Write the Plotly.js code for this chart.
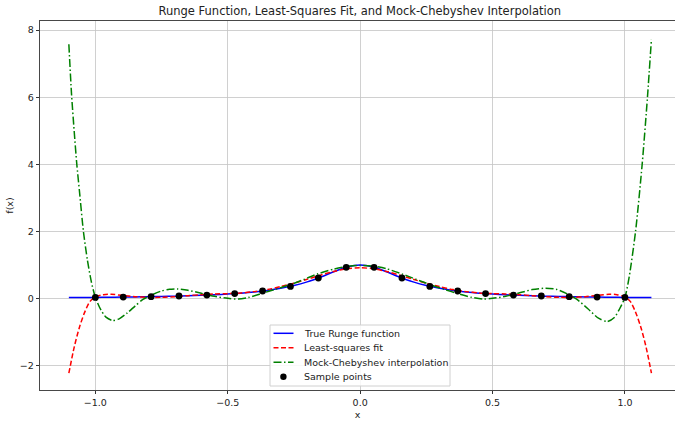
<!DOCTYPE html>
<html>
<head>
<meta charset="utf-8">
<script src="https://cdn.plot.ly/plotly-3.0.1.min.js"></script>
<style>html,body{margin:0;padding:0;background:#fff;}#chart{width:675px;height:424px;}</style>
</head>
<body>
<div id="chart"></div>
<script>
// True Runge function
const xTrue = [-1.1,-1.05,-1.0,-0.95,-0.9,-0.85,-0.8,-0.75,-0.7,-0.65,-0.6,-0.55,-0.5,-0.45,-0.4,-0.35,-0.3,-0.25,-0.2,-0.15,-0.1,-0.05,0,
  0.05,0.1,0.15,0.2,0.25,0.3,0.35,0.4,0.45,0.5,0.55,0.6,0.65,0.7,0.75,0.8,0.85,0.9,0.95,1.0,1.05,1.1];
const yTrue = [0.032,0.035,0.038,0.042,0.047,0.052,0.059,0.066,0.075,0.086,0.1,0.117,0.138,0.165,0.2,0.246,0.308,0.39,0.5,0.64,0.8,0.941,1.0,
  0.941,0.8,0.64,0.5,0.39,0.308,0.246,0.2,0.165,0.138,0.117,0.1,0.086,0.075,0.066,0.059,0.052,0.047,0.042,0.038,0.035,0.032];

// Least-squares fit
const xFit = [-1.1,-1.08,-1.06,-1.04,-1.02,-1.0,-0.97,-0.94,-0.9,-0.85,-0.8,-0.75,-0.7,-0.65,-0.6,-0.55,-0.5,-0.45,-0.4,-0.35,-0.3,-0.25,-0.2,-0.15,-0.1,-0.05,0,
  0.05,0.1,0.15,0.2,0.25,0.3,0.35,0.4,0.45,0.5,0.55,0.6,0.65,0.7,0.75,0.8,0.85,0.9,0.94,0.97,1.0,1.02,1.04,1.06,1.08,1.1];
const yFit = [-2.22,-1.45,-0.85,-0.4,-0.08,0.05,0.12,0.13,0.1,0.06,0.04,0.04,0.06,0.09,0.12,0.14,0.15,0.17,0.21,0.27,0.36,0.46,0.58,0.7,0.81,0.89,0.92,
  0.89,0.81,0.7,0.58,0.46,0.36,0.27,0.21,0.17,0.15,0.14,0.12,0.09,0.06,0.04,0.04,0.06,0.1,0.13,0.12,0.05,-0.08,-0.4,-0.85,-1.45,-2.22];

// Mock-Chebyshev interpolation
const xCheb = [-1.1,-1.09,-1.08,-1.07,-1.06,-1.045,-1.03,-1.015,-1.0,-0.98,-0.96,-0.935,-0.91,-0.88,-0.85,-0.82,-0.79,-0.75,-0.72,-0.69,-0.65,-0.6,-0.55,-0.5,-0.46,-0.42,-0.37,-0.32,-0.26,-0.21,-0.16,-0.1,-0.05,0,
  0.05,0.1,0.16,0.21,0.26,0.32,0.37,0.42,0.465,0.5,0.55,0.6,0.65,0.7,0.74,0.78,0.82,0.86,0.9,0.933,0.96,0.98,1.0,1.016,1.04,1.065,1.085,1.1];
const yCheb = [7.58,6.1,5.0,4.0,3.2,2.0,1.15,0.5,0.04,-0.32,-0.55,-0.65,-0.6,-0.43,-0.22,-0.02,0.1,0.23,0.28,0.29,0.25,0.16,0.07,0.01,-0.01,0.04,0.16,0.28,0.43,0.58,0.74,0.88,0.96,0.99,
  0.97,0.89,0.73,0.58,0.43,0.27,0.15,0.04,-0.01,0.01,0.07,0.17,0.27,0.31,0.28,0.15,-0.03,-0.3,-0.58,-0.68,-0.56,-0.3,0.04,0.65,2.0,4.0,6.0,7.73];

// Sample points
const xSample = [-1.0,-0.8947,-0.7895,-0.6842,-0.5789,-0.4737,-0.3684,-0.2632,-0.1579,-0.0526,0.0526,0.1579,0.2632,0.3684,0.4737,0.5789,0.6842,0.7895,0.8947,1.0];
const ySample = [0.038,0.048,0.060,0.079,0.107,0.151,0.228,0.366,0.616,0.935,0.935,0.616,0.366,0.228,0.151,0.107,0.079,0.060,0.048,0.038];

const xTickVals = [-1.0,-0.5,0.0,0.5,1.0];
const xTickText = ['\u22121.0','\u22120.5','0.0','0.5','1.0'];
const yTickVals = [-2,0,2,4,6,8];
const yTickText = ['\u22122','0','2','4','6','8'];

const seriesNames = ['True Runge function','Least-squares fit','Mock-Chebyshev interpolation','Sample points'];
const seriesColors = ['#0000ff','#ff0000','#008000','#000000'];
const seriesDash = ['solid','5px,2.5px','8px,2.5px,1.5px,2.5px',null];

const font = 'DejaVu Sans, sans-serif';
const traces = [
  {x:xTrue, y:yTrue, type:'scatter', mode:'lines', name:seriesNames[0],
   line:{color:seriesColors[0], width:1.5, shape:'spline', smoothing:0.8}},
  {x:xFit, y:yFit, type:'scatter', mode:'lines', name:seriesNames[1],
   line:{color:seriesColors[1], width:1.5, dash:seriesDash[1], shape:'spline', smoothing:0.8}},
  {x:xCheb, y:yCheb, type:'scatter', mode:'lines', name:seriesNames[2],
   line:{color:seriesColors[2], width:1.5, dash:seriesDash[2], shape:'spline', smoothing:0.7}},
  {x:xSample, y:ySample, type:'scatter', mode:'markers', name:seriesNames[3],
   marker:{color:seriesColors[3], size:6.8}}
];

// Compact legend box (matplotlib-style), built in paper coordinates
const plotL = 40, plotW = 635, plotB = 390, plotH = 369;
const px = v => (v - plotL) / plotW;
const py = v => (plotB - v) / plotH;
const rowsY = [333.3, 347.7, 362.3, 376.7];
const shapes = [
  {type:'rect', xref:'paper', yref:'paper', x0:px(270), x1:px(450), y0:py(386), y1:py(325),
   fillcolor:'rgba(255,255,255,0.85)', line:{color:'#d0d0d0', width:1}, layer:'above'}
];
const annotations = [];
rowsY.forEach((ry, i) => {
  if (i < 3) {
    shapes.push({type:'line', xref:'paper', yref:'paper', x0:px(273.5), x1:px(293.5), y0:py(ry), y1:py(ry),
      line:{color:seriesColors[i], width:1.5, dash:seriesDash[i]}, layer:'above'});
  } else {
    shapes.push({type:'circle', xref:'paper', yref:'paper', x0:px(280.2), x1:px(286.6), y0:py(ry+3.2), y1:py(ry-3.2),
      fillcolor:seriesColors[i], line:{color:seriesColors[i], width:0}, layer:'above'});
  }
  annotations.push({xref:'paper', yref:'paper', x:px(301.5), y:py(ry), xanchor:'left', yanchor:'middle',
    text:seriesNames[i], showarrow:false, font:{family:font, size:9.5, color:'#222'}});
});

const layout = {
  width:675, height:424,
  margin:{l:40, r:0, t:21, b:34, pad:0},
  paper_bgcolor:'#fff', plot_bgcolor:'#fff',
  font:{family:font, size:9.5, color:'#222'},
  title:{text:'Runge Function, Least-Squares Fit, and Mock-Chebyshev Interpolation',
         font:{family:font, size:11.5, color:'#222'}, x:0.533, xanchor:'center', y:0.974, yanchor:'middle'},
  xaxis:{range:[-1.209,1.189], tickvals:xTickVals, ticktext:xTickText, showgrid:true, gridcolor:'#c4c4c4', gridwidth:0.8,
         zeroline:false, showline:true, linecolor:'#333', linewidth:0.9, mirror:true, ticks:'outside', ticklen:3.5, tickcolor:'#333',
         title:{text:'x', font:{family:font, size:9.5, color:'#222'}, standoff:4}},
  yaxis:{range:[-2.72,8.27], tickvals:yTickVals, ticktext:yTickText, showgrid:true, gridcolor:'#c4c4c4', gridwidth:0.8,
         zeroline:false, showline:true, linecolor:'#333', linewidth:0.9, mirror:true, ticks:'outside', ticklen:3.5, tickcolor:'#333',
         title:{text:'f(x)', font:{family:font, size:9.5, color:'#222'}, standoff:4}},
  showlegend:false,
  shapes:shapes,
  annotations:annotations
};
Plotly.newPlot('chart', traces, layout, {staticPlot:true, displayModeBar:false});
</script>
</body>
</html>
